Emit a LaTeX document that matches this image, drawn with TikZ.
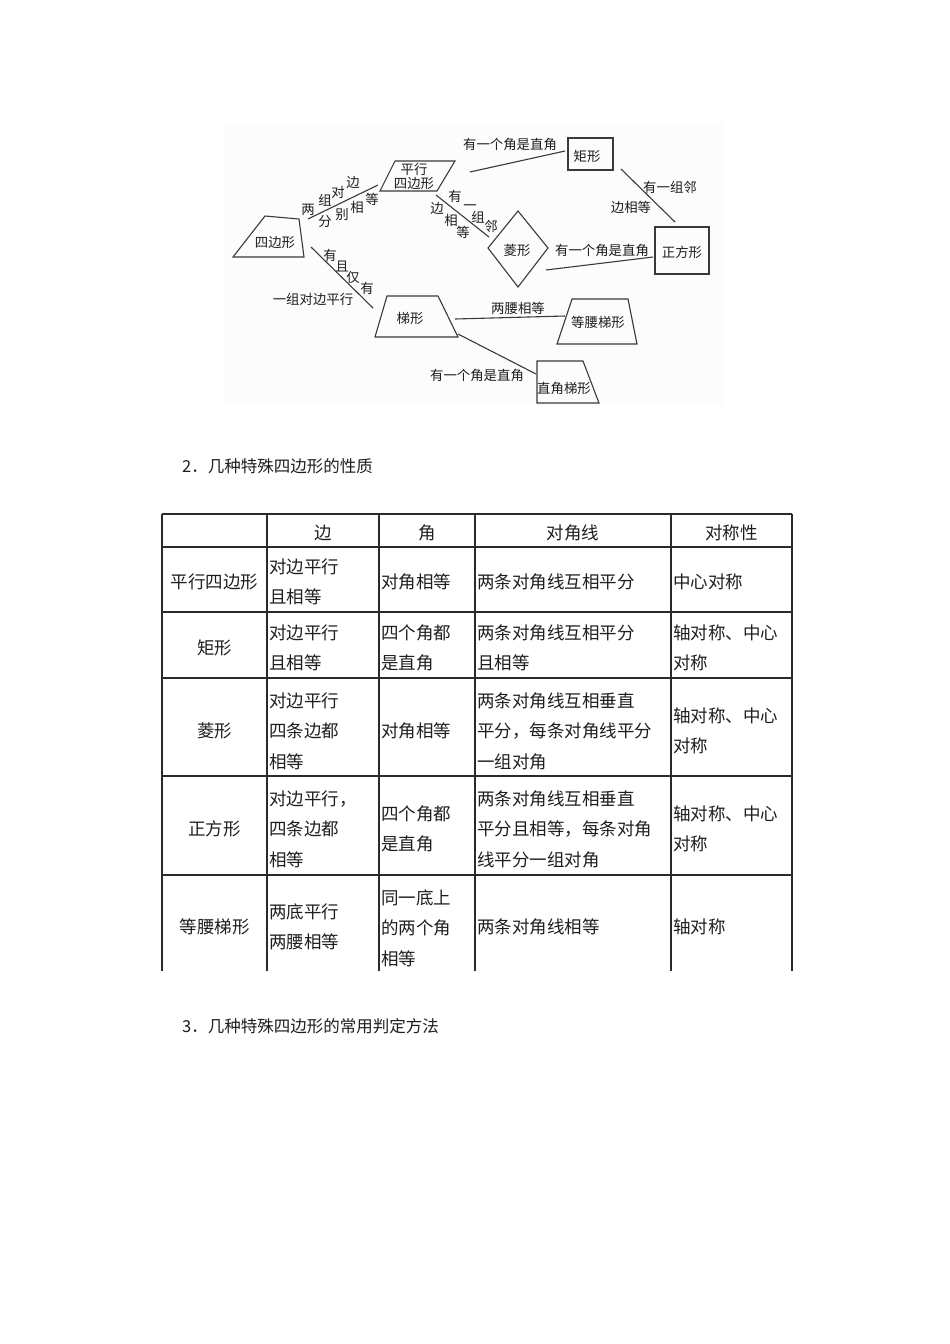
\documentclass[tikz,border=0pt]{standalone}
\usepackage{fontspec}
\setmainfont{Noto Sans CJK SC}
\usetikzlibrary{positioning}
\definecolor{qdInk}{HTML}{1E1E1E}
\definecolor{qdLine}{HTML}{3A3A3A}
\definecolor{qdGrid}{HTML}{2A2A2A}
\definecolor{qdPaper}{HTML}{FCFCFC}
\tikzset{
  shp/.style   ={draw=qdLine,line width=1.1pt,line join=miter},
  link/.style  ={qdLine,line width=1.1pt},
  dtxt/.style  ={font=\fontsize{13.4}{13.4}\selectfont,text=qdInk,inner sep=0pt},
  grid/.style  ={qdGrid,line width=1.5pt},
  cell/.style  ={font=\fontsize{17.5}{30.5}\selectfont,text=qdInk,inner sep=0pt,
                 anchor=west,align=left},
  ccell/.style ={cell,anchor=center,align=center},
  head/.style  ={font=\fontsize{16.5}{18}\selectfont,text=qdInk,inner sep=0pt,anchor=west},
}
\begin{document}
\begin{tikzpicture}[x=1pt,y=-1pt]
\useasboundingbox (0,0) rectangle (950,1344);
\fill[qdPaper] (224,124) rectangle (724,406);

%% the quadrilaterals
\draw[shp] (265,216) -- (299,219) -- (304,257) -- (233,257) -- cycle;
\node[dtxt] (quad) at (275,243) {四边形};
\draw[shp] (395,161) -- (455,161) -- (437,191) -- (380,191) -- cycle;
\node[dtxt,align=center] (para) at (414,176.5) {平行\\四边形};
\draw[shp] (568,138) rectangle (613,170);
\node[dtxt] (rect) at (587,156) {矩形};
\draw[shp] (655,227) rectangle (709,274);
\node[dtxt] (square) at (682,252) {正方形};
\draw[shp] (518,211) -- (548,248) -- (518,287) -- (488,248) -- cycle;
\node[dtxt] (rhomb) at (517,250) {菱形};
\draw[shp] (387,296) -- (438,296) -- (458,337) -- (375,337) -- cycle;
\node[dtxt] (trap) at (410,318) {梯形};
\draw[shp] (572,299) -- (628,299) -- (637,344) -- (557,344) -- cycle;
\node[dtxt] (isotrap) at (598,322) {等腰梯形};
\draw[shp] (537,361) -- (583,361) -- (599,403) -- (537,403) -- cycle;
\node[dtxt] (rtrap) at (564,388) {直角梯形};

%% connector ends
\coordinate (quad-up) at (308,219);   \coordinate (para-in) at (378,185);
\coordinate (quad-dn) at (311,247);   \coordinate (trap-in) at (373,308);
\coordinate (para-r) at (470,172);    \coordinate (rect-in) at (565,151);
\coordinate (para-d) at (436,195);    \coordinate (rhomb-in) at (489,237);
\coordinate (rect-d) at (621,169);    \coordinate (square-up) at (675,222);
\coordinate (rhomb-r) at (546,270);   \coordinate (square-in) at (653,257);
\coordinate (trap-r) at (455,319);    \coordinate (isotrap-in) at (565,316);
\coordinate (trap-d) at (458,334);    \coordinate (rtrap-in) at (536,374);

\draw[link] (quad-up) -- (para-in);
\draw[link] (quad-dn) -- (trap-in);
\draw[link] (para-r) -- (rect-in);
\draw[link] (para-d) -- (rhomb-in);
\draw[link] (rect-d) -- (square-up);
\draw[link] (rhomb-r) -- (square-in);
\draw[link] (trap-r) -- (isotrap-in);
\draw[link] (trap-d) -- (rtrap-in);

%% labels along the slanted lines
\foreach \ch/\x/\y [count=\i] in {两/308/210,组/325/200,对/338/192,边/353/183,
    分/325/222,别/342/215,相/357/207,等/372/199}
  \node[dtxt] (qp\i) at (\x,\y) {\ch};
\foreach \ch/\x/\y [count=\i] in {有/330/255,且/342/266,仅/353/277,有/367/288}
  \node[dtxt] (qt\i) at (\x,\y) {\ch};
\foreach \ch/\x/\y [count=\i] in {有/455/196,一/470/208,组/478/217,邻/491/226,
    边/437/209,相/451/220,等/463/232}
  \node[dtxt] (pr\i) at (\x,\y) {\ch};
\node[dtxt] (qtB) at (313,299) {一组对边平行};
\node[dtxt] (prA) at (510,144) {有一个角是直角};
\node[dtxt] (rsA) at (670,187) {有一组邻};
\node[dtxt] (rsB) at (631,207) {边相等};
\node[dtxt] (hsA) at (602,250) {有一个角是直角};
\node[dtxt] (tiA) at (518,308) {两腰相等};
\node[dtxt] (trA) at (477,375) {有一个角是直角};

%% headings
\node[head] (sec2) at (182,466) {2．几种特殊四边形的性质};
\node[head] (sec3) at (182,1026) {3．几种特殊四边形的常用判定方法};

%% the table
\foreach \x in {162,267,379,475,671,792}
  \draw[grid] (\x,514) -- (\x,971);
\foreach \y in {514,547,612,678,776,875}
  \draw[grid] (162,\y) -- (792,\y);

\node[ccell] (hSide) at (323,533) {边};
\node[ccell] (hAng) at (427,533) {角};
\node[ccell] (hDiag) at (573,533) {对角线};
\node[ccell] (hSym) at (731.5,533) {对称性};

\node[ccell] (nPara) at (214.5,582) {平行四边形};
\node[cell] (sPara) at (269,582) {对边平行\\且相等};
\node[cell] (aPara) at (381,582) {对角相等};
\node[cell] (dPara) at (477,582) {两条对角线互相平分};
\node[cell] (yPara) at (673,582) {中心对称};

\node[ccell] (nRect) at (214.5,648) {矩形};
\node[cell] (sRect) at (269,648) {对边平行\\且相等};
\node[cell] (aRect) at (381,648) {四个角都\\是直角};
\node[cell] (dRect) at (477,648) {两条对角线互相平分\\且相等};
\node[cell] (yRect) at (673,648) {轴对称、中心\\对称};

\node[ccell] (nRhomb) at (214.5,731) {菱形};
\node[cell] (sRhomb) at (269,731) {对边平行\\四条边都\\相等};
\node[cell] (aRhomb) at (381,731) {对角相等};
\node[cell] (dRhomb) at (477,731) {两条对角线互相垂直\\平分，每条对角线平分\\一组对角};
\node[cell] (yRhomb) at (673,731) {轴对称、中心\\对称};

\node[ccell] (nSquare) at (214.5,829) {正方形};
\node[cell] (sSquare) at (269,829) {对边平行，\\四条边都\\相等};
\node[cell] (aSquare) at (381,829) {四个角都\\是直角};
\node[cell] (dSquare) at (477,829) {两条对角线互相垂直\\平分且相等，每条对角\\线平分一组对角};
\node[cell] (ySquare) at (673,829) {轴对称、中心\\对称};

\node[ccell] (nIso) at (214.5,927) {等腰梯形};
\node[cell] (sIso) at (269,927) {两底平行\\两腰相等};
\node[cell] (aIso) at (381,928) {同一底上\\的两个角\\相等};
\node[cell] (dIso) at (477,927) {两条对角线相等};
\node[cell] (yIso) at (673,927) {轴对称};
\end{tikzpicture}
\end{document}
